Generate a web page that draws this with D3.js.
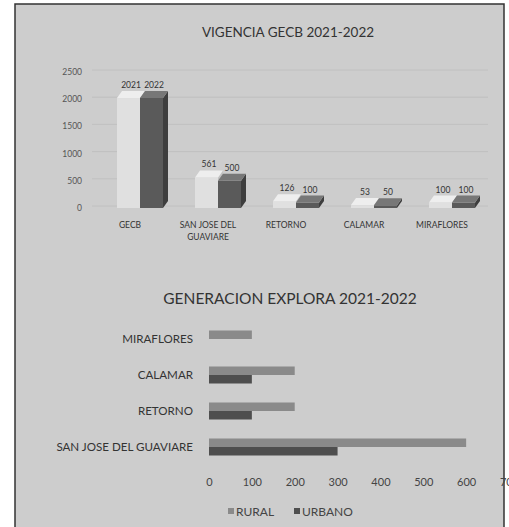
<!DOCTYPE html>
<html>
<head>
<meta charset="utf-8">
<script src="https://cdn.jsdelivr.net/npm/d3@7"></script>
<style>
  body { margin: 0; background: #fff; }
  svg { display: block; font-family: Lato, "Open Sans", sans-serif; }
</style>
</head>
<body>
<svg id="chart" width="509" height="527"></svg>
<script>
// top chart - VIGENCIA GECB
const vigCategories = ["GECB", "SAN JOSE DEL GUAVIARE", "RETORNO", "CALAMAR", "MIRAFLORES"];
const vig2021 = [2021, 561, 126, 53, 100];
const vig2022 = [2022, 500, 100, 50, 100];
const vigTicks = [0, 500, 1000, 1500, 2000, 2500];

// bottom chart - GENERACION EXPLORA
const expCategories = ["MIRAFLORES", "CALAMAR", "RETORNO", "SAN JOSE DEL GUAVIARE"];
const expRural = [100, 200, 200, 600];
const expUrbano = [0, 100, 100, 300];
const expTicks = [0, 100, 200, 300, 400, 500, 600, 700];
const expSeries = ["RURAL", "URBANO"];

const svg = d3.select("#chart");

// scanned page panel
svg.append("rect")
    .attr("x", 15).attr("y", 4)
    .attr("width", 489).attr("height", 530)
    .attr("fill", "#cdcdcd")
    .attr("stroke", "#333")
    .attr("stroke-width", 1.5);

// ---------- VIGENCIA GECB 2021-2022 ----------
const topChart = svg.append("g");

topChart.append("text")
    .attr("x", 288).attr("y", 37)
    .attr("text-anchor", "middle")
    .attr("font-size", 13.5)
    .attr("fill", "#333")
    .text("VIGENCIA GECB 2021-2022");

const y1 = d3.scaleLinear().domain([0, 2500]).range([208, 72]);
const x1 = d3.scaleBand().domain(vigCategories).range([91, 481]);

// faint back wall gridlines
topChart.selectAll(".grid")
    .data(vigTicks)
    .enter().append("line")
    .attr("x1", 92).attr("x2", 488)
    .attr("y1", d => y1(d) - 2).attr("y2", d => y1(d) - 2)
    .attr("stroke", "#bcbcbc")
    .attr("stroke-width", 0.8);

topChart.selectAll(".ytick")
    .data(vigTicks)
    .enter().append("text")
    .attr("x", 82)
    .attr("y", d => y1(d) + 3)
    .attr("text-anchor", "end")
    .attr("font-size", 8.5)
    .attr("fill", "#555")
    .text(d => d);

const dx = 5, dy = 7, bw = 23;
const vigBars = [];
vigCategories.forEach((c, i) => {
    const cx = x1(c) + x1.bandwidth() / 2;
    vigBars.push({ x: cx - 13, v: vig2021[i], front: "#e0e0e0", topc: "#eeeeee", side: "#c2c2c2" });
    vigBars.push({ x: cx - 13 + bw, v: vig2022[i], front: "#5a5a5a", topc: "#777", side: "#3e3e3e" });
});

const bar3d = topChart.selectAll(".bar3d")
    .data(vigBars)
    .enter().append("g");

bar3d.append("polygon")
    .attr("points", d => {
        const yt = y1(d.v), yb = y1(0);
        return [[d.x + bw, yt], [d.x + bw + dx, yt - dy], [d.x + bw + dx, yb - dy], [d.x + bw, yb]].join(" ");
    })
    .attr("fill", d => d.side);

bar3d.append("rect")
    .attr("x", d => d.x)
    .attr("y", d => y1(d.v))
    .attr("width", bw)
    .attr("height", d => y1(0) - y1(d.v))
    .attr("fill", d => d.front);

bar3d.append("polygon")
    .attr("points", d => {
        const yt = y1(d.v);
        return [[d.x, yt], [d.x + dx, yt - dy], [d.x + bw + dx, yt - dy], [d.x + bw, yt]].join(" ");
    })
    .attr("fill", d => d.topc);

bar3d.append("text")
    .attr("x", d => d.x + bw / 2 + dx / 2)
    .attr("y", d => y1(d.v) - dy - 3)
    .attr("text-anchor", "middle")
    .attr("font-size", 8.5)
    .attr("fill", "#333")
    .text(d => d.v);

// category labels (two lines for long ones)
const catLabels = topChart.selectAll(".cat")
    .data(vigCategories)
    .enter().append("text")
    .attr("text-anchor", "middle")
    .attr("font-size", 8.5)
    .attr("fill", "#333");

catLabels.each(function(c) {
    const cx = x1(c) + x1.bandwidth() / 2;
    const lines = c === "SAN JOSE DEL GUAVIARE" ? ["SAN JOSE DEL", "GUAVIARE"] : [c];
    lines.forEach((l, k) => {
        d3.select(this).append("tspan")
            .attr("x", cx)
            .attr("y", 228 + k * 12)
            .text(l);
    });
});

// ---------- GENERACION EXPLORA 2021-2022 ----------
const bot = svg.append("g");

bot.append("text")
    .attr("x", 290).attr("y", 304)
    .attr("text-anchor", "middle")
    .attr("font-size", 15.5)
    .attr("fill", "#333")
    .text("GENERACION EXPLORA 2021-2022");

const x2 = d3.scaleLinear().domain([0, 700]).range([209, 509]);
const y2 = d3.scaleBand().domain(expCategories).range([321, 465]);
const ys = d3.scaleBand().domain(expSeries).range([y2.bandwidth() / 2 - 8.5, y2.bandwidth() / 2 + 8.5]);
const expColor = d3.scaleOrdinal().domain(expSeries).range(["#8a8a8a", "#4e4e4e"]);

const rows = bot.selectAll(".row")
    .data(expCategories.map((c, i) => ({ c, vals: [{ s: "RURAL", v: expRural[i] }, { s: "URBANO", v: expUrbano[i] }] })))
    .enter().append("g")
    .attr("transform", d => `translate(0,${y2(d.c)})`);

rows.selectAll("rect")
    .data(d => d.vals)
    .enter().append("rect")
    .attr("x", x2(0))
    .attr("y", d => ys(d.s))
    .attr("width", d => x2(d.v) - x2(0))
    .attr("height", ys.bandwidth())
    .attr("fill", d => expColor(d.s));

rows.append("text")
    .attr("x", 193)
    .attr("y", y2.bandwidth() / 2 + 4)
    .attr("text-anchor", "end")
    .attr("font-size", 11.6)
    .attr("fill", "#333")
    .text(d => d.c);

const xAxis = bot.append("g")
    .attr("transform", "translate(0,486)")
    .call(d3.axisBottom(x2).tickValues(expTicks).tickSize(0).tickPadding(0));
xAxis.select(".domain").remove();
xAxis.selectAll("text")
    .attr("font-size", 11)
    .attr("font-family", "Lato, sans-serif")
    .attr("fill", "#444")
    .attr("dy", "0");

// legend
const legend = bot.selectAll(".legend")
    .data(expSeries)
    .enter().append("g")
    .attr("transform", (d, i) => `translate(${228 + i * 66},512)`);

legend.append("rect")
    .attr("x", 0).attr("y", -4)
    .attr("width", 6).attr("height", 6)
    .attr("fill", d => expColor(d));

legend.append("text")
    .attr("x", 8).attr("y", 3.5)
    .attr("font-size", 12)
    .attr("fill", "#444")
    .text(d => d);
</script>
</body>
</html>
